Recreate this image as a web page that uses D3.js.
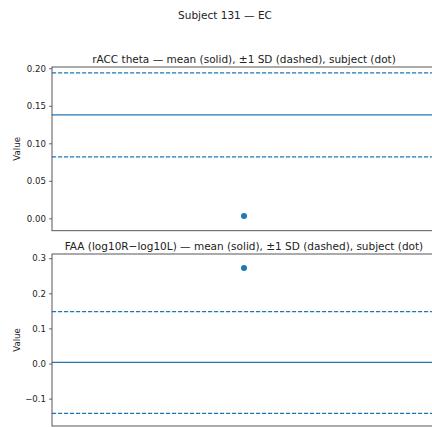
<!DOCTYPE html>
<html>
<head>
<meta charset="utf-8">
<script src="https://cdn.jsdelivr.net/npm/d3@7"></script>
<style>
  body { margin: 0; background: #fff; }
  text { font-family: "DejaVu Sans", sans-serif; fill: #222; }
</style>
</head>
<body>
<script>
const figTitle = 'Subject 131 — EC';

const panelTitles = [
  'rACC theta — mean (solid), ±1 SD (dashed), subject (dot)',
  'FAA (log10R−log10L) — mean (solid), ±1 SD (dashed), subject (dot)'
];
const means    = [0.138, 0.003];
const sds      = [0.056, 0.145];
const subjects = [0.003, 0.272];
const yDomains = [[-0.0165, 0.2017], [-0.178, 0.312]];
const yTicks   = [[0, 0.05, 0.10, 0.15, 0.20], [-0.1, 0, 0.1, 0.2, 0.3]];
const tickFmt  = [d3.format('.2f'), d3.format('.1f')];

const WIDTH = 432, HEIGHT = 427;
const C0 = '#1f77b4';

const svg = d3.select('body').append('svg')
  .attr('width', WIDTH)
  .attr('height', HEIGHT);

svg.append('text')
  .attr('x', 225)
  .attr('y', 19)
  .attr('text-anchor', 'middle')
  .style('font-size', '10.5px')
  .text(figTitle);

// panel boxes: left, right (runs off the page), top, bottom
const panels = [
  { left: 52, right: 436, top: 67, bottom: 230.7 },
  { left: 52, right: 436, top: 254, bottom: 426 }
];

panels.forEach((p, i) => {
  const x = d3.scaleLinear().domain([-1, 1]).range([p.left, p.right]);
  const y = d3.scaleLinear().domain(yDomains[i]).range([p.bottom, p.top]);

  const g = svg.append('g');

  // title
  g.append('text')
    .attr('x', (p.left + p.right) / 2)
    .attr('y', p.top - 4)
    .attr('text-anchor', 'middle')
    .style('font-size', '10.5px')
    .text(panelTitles[i]);

  // reference lines
  const lines = [
    { v: means[i], dash: null },
    { v: means[i] + sds[i], dash: '4.2,1.8' },
    { v: means[i] - sds[i], dash: '4.2,1.8' }
  ];
  g.selectAll('.ref')
    .data(lines)
    .enter().append('line')
      .attr('class', 'ref')
      .attr('x1', p.left)
      .attr('x2', p.right)
      .attr('y1', (d) => y(d.v))
      .attr('y2', (d) => y(d.v))
      .attr('stroke', C0)
      .attr('stroke-width', 1.2)
      .attr('stroke-dasharray', (d) => d.dash);

  // subject dot
  g.append('circle')
    .attr('cx', x(0))
    .attr('cy', y(subjects[i]))
    .attr('r', 3)
    .attr('fill', C0);

  // y axis
  const axis = g.append('g')
    .attr('transform', `translate(${p.left},0)`)
    .call(d3.axisLeft(y).tickValues(yTicks[i]).tickFormat(tickFmt[i]).tickSize(3).tickPadding(3));
  axis.select('.domain').remove();
  axis.selectAll('line').attr('stroke', '#444').attr('stroke-width', 0.8);
  axis.selectAll('text')
    .style('font-family', '"DejaVu Sans", sans-serif')
    .style('font-size', '8.6px')
    .attr('fill', '#222')
    .text(function () { return d3.select(this).text().replace('-', '−'); });

  // frame
  g.append('rect')
    .attr('x', p.left)
    .attr('y', p.top)
    .attr('width', p.right - p.left)
    .attr('height', p.bottom - p.top)
    .attr('fill', 'none')
    .attr('stroke', '#444')
    .attr('stroke-width', 0.9);

  // y label
  g.append('text')
    .attr('transform', `translate(${20},${(p.top + p.bottom) / 2}) rotate(-90)`)
    .attr('text-anchor', 'middle')
    .style('font-size', '8.6px')
    .text('Value');
});
</script>
</body>
</html>
